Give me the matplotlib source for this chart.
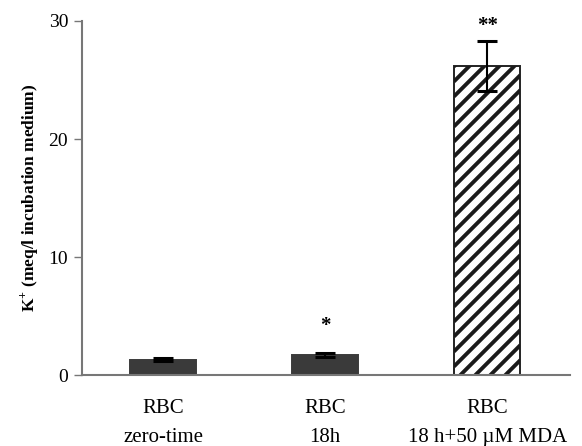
import matplotlib

matplotlib.use("Agg")
import matplotlib.pyplot as plt
import numpy as np

# data
groups = ["RBC\nzero-time", "RBC\n18h", "RBC\n18 h+50 \u00b5M MDA"]
k_values = [1.3, 1.7, 26.2]
k_errors = [0.12, 0.15, 2.1]
sig_marks = ["", "*", "**"]
sig_y = [None, 4.2, 29.6]

plt.rcParams["font.family"] = ["Liberation Serif", "DejaVu Serif"]
plt.rcParams["mathtext.fontset"] = "custom"
plt.rcParams["mathtext.rm"] = "Liberation Serif"
plt.rcParams["mathtext.bf"] = "Liberation Serif:bold"

fig = plt.figure(figsize=(5.82, 4.46), dpi=100)
ax = fig.add_axes([0.141, 0.159, 0.838, 0.794])
ax.set_xlim(-0.5, 2.51)
ax.set_ylim(0, 30)

xs = np.arange(len(groups))
face = ["#3a3a3a", "#3a3a3a", "white"]
hatched = [False, False, True]
for x, v, e, fc, h in zip(xs, k_values, k_errors, face, hatched):
    bar = ax.bar(x, v, width=0.41, color=fc, edgecolor="#222222" if h else fc,
                 linewidth=1.4, zorder=2)[0]
    if h:
        # hand-drawn diagonal hatch (45 deg on screen, ~15 px apart)
        (x0, y0), (x1, y1) = ax.transData.transform([(bar.get_x(), 0),
                                                     (bar.get_x() + bar.get_width(), v)])
        step = 15.0
        width_px = x1 - x0
        for c in np.arange(y0 - width_px, y1 + step, step):
            pts = ax.transData.inverted().transform([(x0, c), (x1, c + width_px)])
            ln, = ax.plot(pts[:, 0], pts[:, 1], color="#1a1a1a", lw=2.8,
                          zorder=2.5, solid_capstyle="butt")
            ln.set_clip_path(bar)
    ax.errorbar(x, v, yerr=e, fmt="none", ecolor="black", elinewidth=1.5,
                capsize=7, capthick=2.2, zorder=3)

for x, s, sy in zip(xs, sig_marks, sig_y):
    if s:
        ax.text(x, sy, s, ha="center", va="center", fontsize=15,
                fontweight="bold")

ax.set_yticks([0, 10, 20, 30])
ax.tick_params(axis="y", labelsize=14, length=6, width=1, color="#777777",
               direction="out", pad=4)
ax.tick_params(axis="x", length=0, labelsize=15, pad=17)
ax.set_xticks(xs)
ax.set_xticklabels(groups, linespacing=1.75)

for side in ("top", "right"):
    ax.spines[side].set_visible(False)
for side in ("left", "bottom"):
    ax.spines[side].set_color("#777777")
    ax.spines[side].set_linewidth(1.5)

ax.set_ylabel(r"K$^{\mathbf{+}}$ (meq/l incubation medium)", fontsize=12.5,
              fontweight="bold", labelpad=6)

fig.savefig("out.png", dpi=100)
